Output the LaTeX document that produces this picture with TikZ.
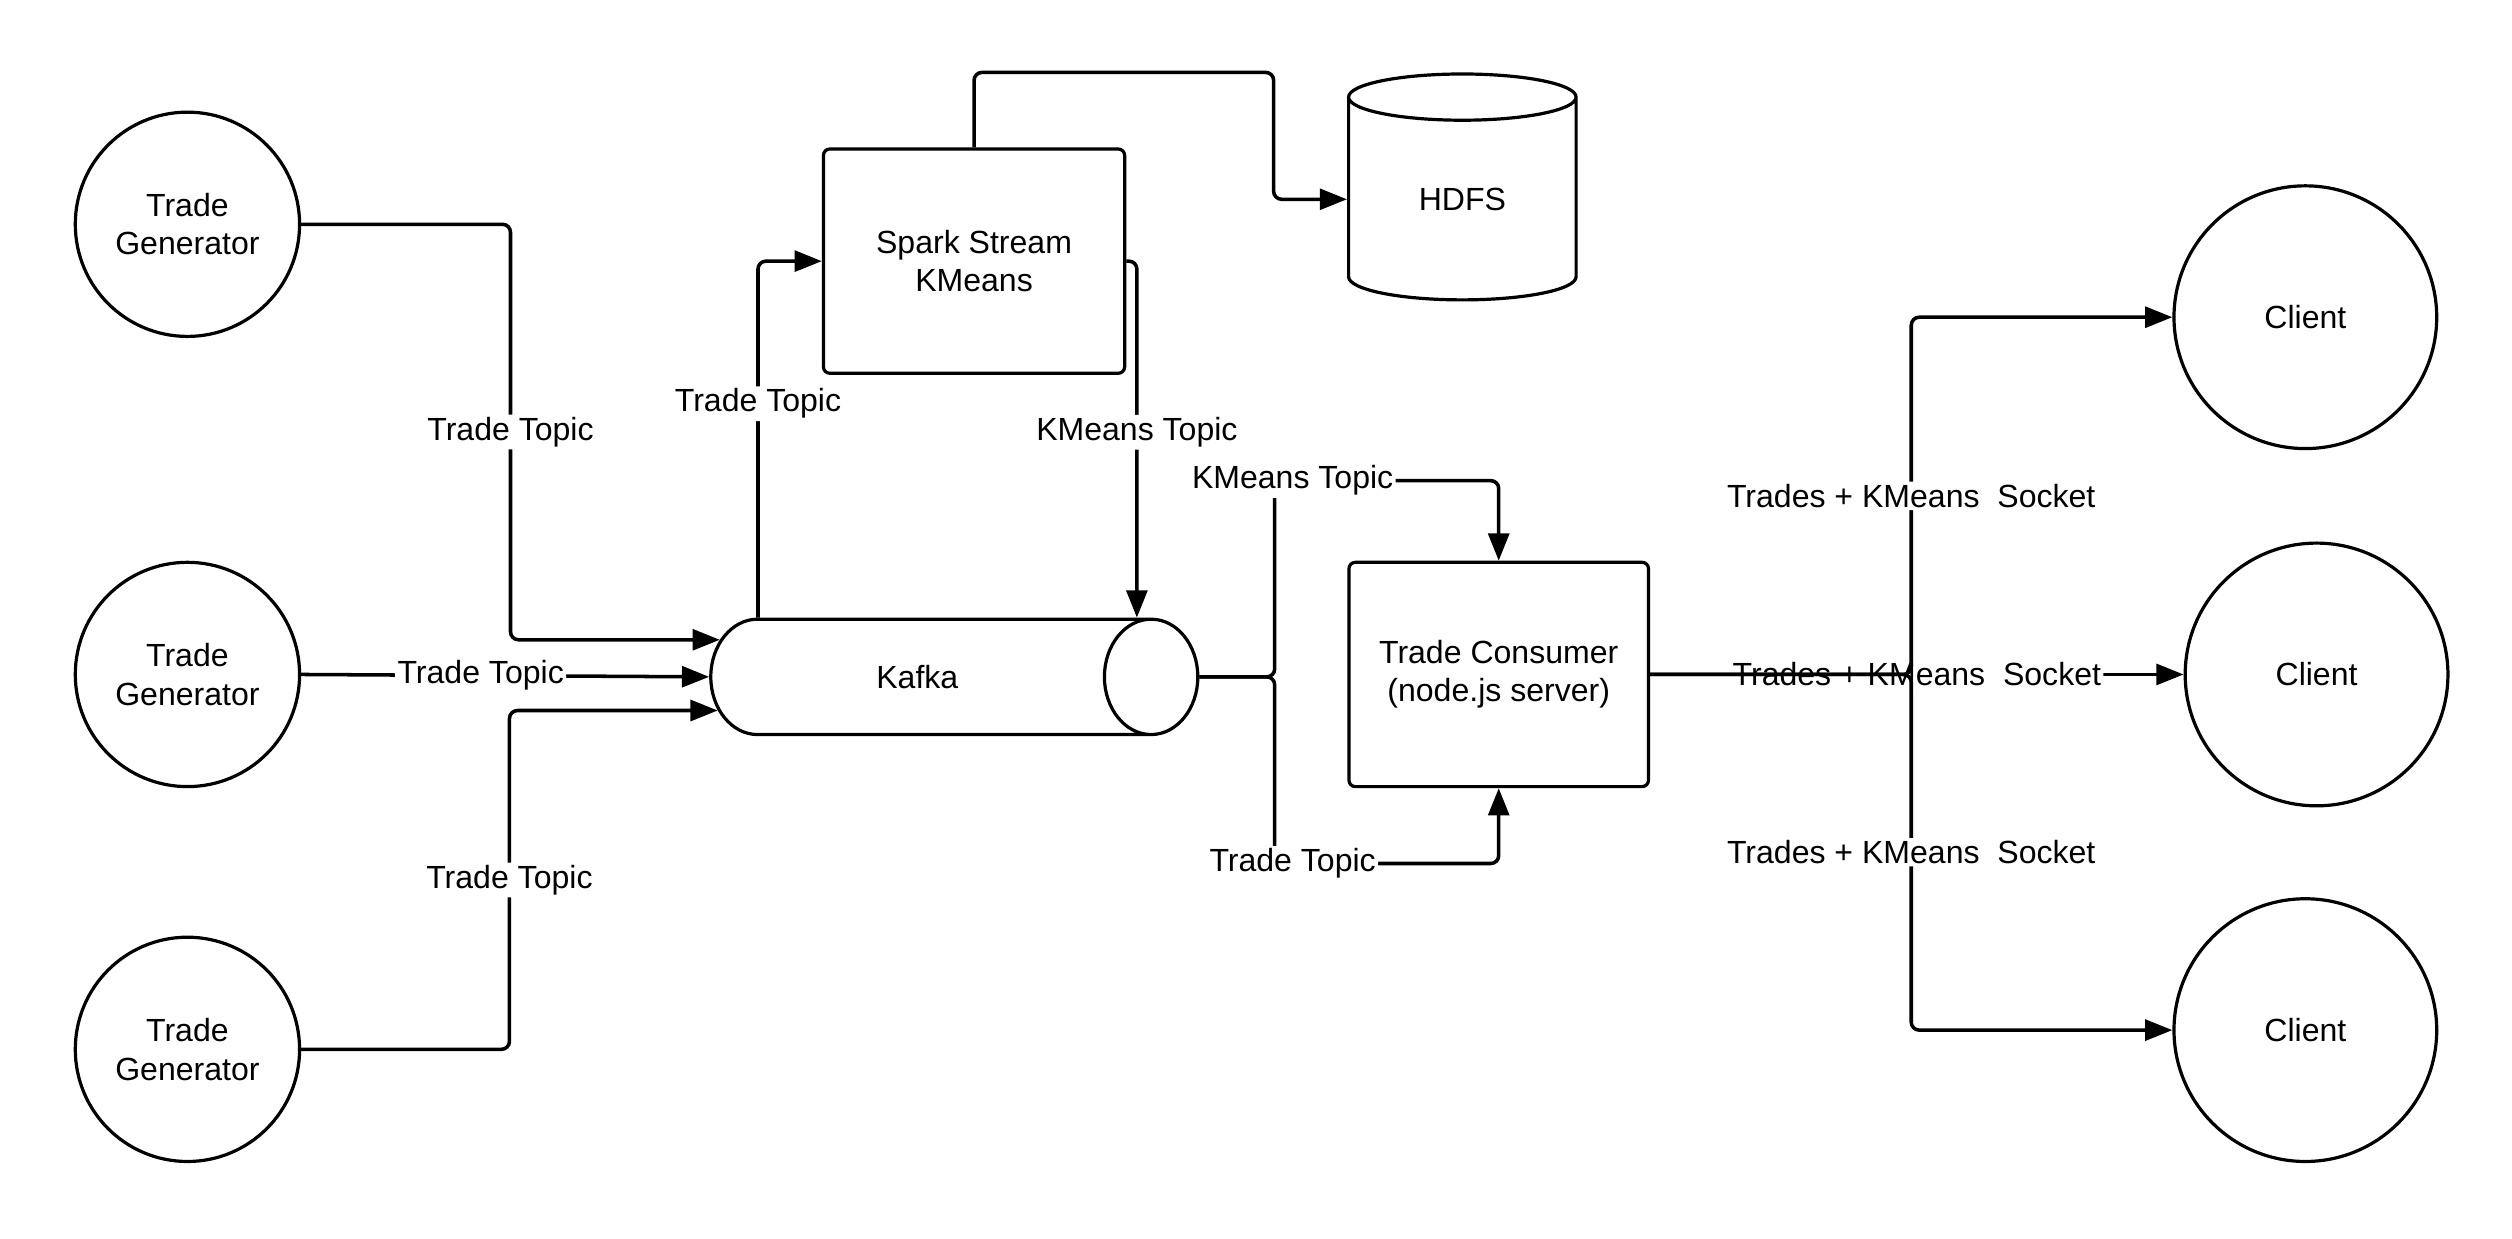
\documentclass[tikz,border=0pt]{standalone}
\usepackage{fontspec}
\setmainfont{Liberation Sans}
\usetikzlibrary{shapes.geometric, arrows.meta, calc}
\tikzset{
    every node/.style={font=\fontsize{20}{24}\selectfont},
    gen/.style={ % producers and clients
        draw, circle, line width=2pt,
        minimum size=140pt, inner sep=0pt, align=center
    },
    client/.style={gen, minimum size=164pt},
    proc/.style={
        draw, line width=2pt, rounded corners=4pt,
        minimum width=188pt, minimum height=140pt, align=center
    },
    store/.style={draw, cylinder, line width=2pt, inner sep=0pt},
    flow/.style={ % every connector
        draw, line width=2.2pt, rounded corners=5pt,
        -{Triangle[length=17pt,width=13pt]}
    },
    topic/.style={fill=white, inner sep=1.5pt},
}

\begin{document}
\begin{tikzpicture}[x=1pt, y=-1pt]
    \useasboundingbox (0,0) rectangle (1568,773);

    \node[gen]  (tg1)   at (117,140)    {Trade\\Generator};
    \node[gen]  (tg2)   at (117,421)    {Trade\\Generator};
    \node[gen]  (tg3)   at (117,655)    {Trade\\Generator};

    \node[store, minimum height=304pt, minimum width=72pt, aspect=3.97]
                (kafka) at (580.6,422.5) {Kafka\hspace*{16pt}};
    \node[proc] (spark) at (608,163)    {Spark Stream\\KMeans};
    \node[store, shape border rotate=90, aspect=0.53,
          minimum width=142pt, minimum height=141pt]
                (hdfs)  at (912.8,124.4) {HDFS};
    \node[proc, minimum width=187pt]
                (tc)    at (935.5,421)  {Trade Consumer\\(node.js server)};

    \node[client] (c1)  at (1439,198)   {Client};
    \node[client] (c2)  at (1446,421)   {Client};
    \node[client] (c3)  at (1439,643)   {Client};

    % generators -> kafka
    \draw[flow] (tg1.east) -| ($(tg1.east)!0.5!(kafka.170.7)$) node[topic]{Trade Topic} |- (kafka.170.7);
    \draw[flow] (tg2.east) -- node[topic, pos=0.44]{Trade Topic} (kafka.180);
    \draw[flow] (tg3.east) -| ($(tg3.east)!0.5!(kafka.189.3)$) node[topic]{Trade Topic} |- (kafka.189.3);

    % kafka <-> spark -> hdfs
    \draw[flow] (kafka.161.5) |- node[topic, pos=0.3]{Trade Topic} (spark.west);
    \draw[flow] (spark.east) -| node[topic, pos=0.74]{KMeans Topic} (kafka.16.6);
    \draw[flow] (spark.north) |- ([xshift=-117.8pt]hdfs.90) |- (hdfs.180);

    % kafka -> consumer
    \draw[flow] (kafka.0) -- ++(47,0) |- node[topic, pos=0.54]{KMeans Topic} ([yshift=50pt]tc.north) -- (tc.north);
    \draw[flow] (kafka.0) -- ++(47,0) |- node[topic, pos=0.54]{Trade Topic} ([yshift=-47pt]tc.south) -- (tc.south);

    % consumer -> clients
    \draw[flow] (tc.east) -- node[topic]{Trades + KMeans~ Socket} (c2.west);
    \draw[flow] (tc.east) -| ($(tc.east)!0.5!(c1.west)$) node[topic]{Trades + KMeans~ Socket} |- (c1.west);
    \draw[flow] (tc.east) -| ($(tc.east)!0.5!(c3.west)$) node[topic]{Trades + KMeans~ Socket} |- (c3.west);
\end{tikzpicture}
\end{document}
